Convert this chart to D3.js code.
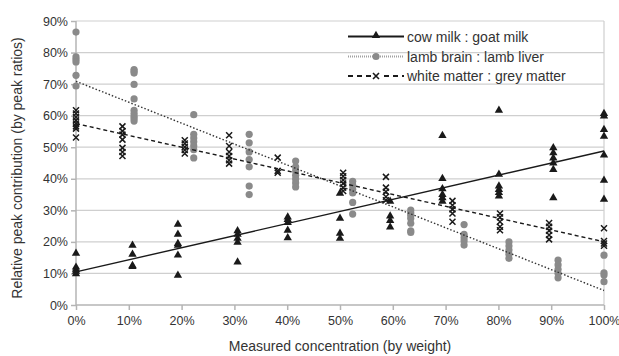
<!DOCTYPE html>
<html>
<head>
<meta charset="utf-8">
<script src="https://cdnjs.cloudflare.com/ajax/libs/d3/7.8.5/d3.min.js"></script>
<style>
  body { margin: 0; background: #fff; }
  svg text { font-family: "Liberation Sans", Arial, sans-serif; fill: #333; }
</style>
</head>
<body>
<div id="chart"></div>
<script>
// measured concentration (%) of each cluster, and peak ratios (%)
var cowX = [0, 10.7, 19.3, 30.6, 40.1, 50, 59.5, 69.4, 80.1, 90.4, 100];
var cowY = [
  [16.7, 12.3, 11.6, 11.0, 10.2],
  [19.2, 16.4, 12.8, 12.5],
  [25.9, 22.7, 19.8, 19.2, 16.1, 9.7],
  [23.8, 22.7, 21.4, 20.2, 13.9],
  [28.2, 27.4, 26.4, 24.0, 21.6],
  [35.7, 27.8, 23.0, 21.4],
  [33.2, 28.5, 27.1, 25.0],
  [54.0, 40.4, 37.1, 35.3, 34.3, 33.2],
  [62.0, 41.7, 38.0, 36.9, 35.9, 34.8],
  [50.1, 48.5, 46.9, 45.3, 43.2, 34.3],
  [61.0, 60.2, 55.9, 53.8, 47.8, 39.8, 33.8]
];

var lambX = [0, 11.0, 22.3, 32.8, 41.6, 52.4, 63.4, 73.5, 82.0, 91.3, 100];
var lambY = [
  [86.5, 78.6, 77.8, 77.0, 72.8, 69.4],
  [74.6, 74.1, 73.5, 69.9, 65.3, 61.7, 60.7, 59.8, 59.1, 58.3],
  [60.3, 54.1, 52.9, 51.7, 50.4, 49.2, 46.6],
  [54.1, 51.4, 48.5, 46.1, 43.8, 37.7, 35.0],
  [45.6, 43.8, 42.5, 41.1, 39.9, 38.7, 37.4],
  [39.2, 38.0, 36.7, 35.5, 32.5, 28.8],
  [30.1, 29.2, 28.4, 27.4, 25.9, 23.5, 23.0],
  [25.5, 22.4, 21.3, 20.3, 19.0],
  [20.0, 18.7, 17.4, 16.1, 14.8],
  [14.2, 12.7, 11.3, 10.0, 8.6],
  [15.8, 10.2, 9.5, 7.4]
];

var whiteX = [0, 8.8, 20.6, 29.0, 38.2, 50.6, 58.7, 71.3, 80.3, 89.6, 100];
var whiteY = [
  [61.7, 60.7, 59.6, 58.5, 57.5, 56.6, 55.9, 53.1],
  [56.6, 55.1, 54.0, 52.4, 49.8, 48.5, 47.2],
  [52.2, 51.2, 50.1, 49.1, 48.0],
  [53.8, 50.4, 48.5, 47.2, 45.9, 44.8],
  [46.7, 42.5, 41.9],
  [41.9, 40.8, 39.6, 38.5, 37.2, 36.1],
  [40.6, 37.2, 35.9, 34.3, 33.2],
  [33.0, 31.6, 30.3, 29.0, 26.4],
  [29.0, 27.8, 26.4, 24.8, 23.7],
  [26.0, 24.8, 23.5, 22.2, 20.8],
  [24.3, 20.3, 19.5, 18.8]
];

var seriesNames = ["cow milk : goat milk", "lamb brain : lamb liver", "white matter : grey matter"];
var xTicks = [0, 10, 20, 30, 40, 50, 60, 70, 80, 90, 100];
var yTicks = [0, 10, 20, 30, 40, 50, 60, 70, 80, 90];

var width = 619, height = 356;
var margin = {top: 21, right: 15, bottom: 51, left: 76};

var svg = d3.select("#chart").append("svg")
  .attr("width", width)
  .attr("height", height);

var x = d3.scaleLinear().domain([0, 100]).range([margin.left, width - margin.right]);
var y = d3.scaleLinear().domain([0, 90]).range([height - margin.bottom, margin.top]);

// gridlines
svg.append("g").selectAll("line")
  .data(yTicks.filter(function(d){ return d > 0; }))
  .enter().append("line")
  .attr("x1", x(0)).attr("x2", x(100))
  .attr("y1", function(d){ return y(d); }).attr("y2", function(d){ return y(d); })
  .attr("stroke", "#cfcfcf").attr("stroke-width", 1.2);

// right border of plot
svg.append("line")
  .attr("x1", x(100)).attr("x2", x(100)).attr("y1", y(90)).attr("y2", y(0))
  .attr("stroke", "#cfcfcf").attr("stroke-width", 1.2);

// axes
var xAxis = d3.axisBottom(x).tickValues(xTicks).tickSize(5).tickPadding(6)
  .tickFormat(function(d){ return d + "%"; });
var yAxis = d3.axisLeft(y).tickValues(yTicks).tickSize(5).tickPadding(3)
  .tickFormat(function(d){ return d + "%"; });

var gx = svg.append("g").attr("transform", "translate(0," + y(0) + ")").call(xAxis);
var gy = svg.append("g").attr("transform", "translate(" + x(0) + ",0)").call(yAxis);
[gx, gy].forEach(function(g){
  g.select(".domain").attr("stroke", "#b4b4b4").attr("stroke-width", 1.5);
  g.selectAll(".tick line").attr("stroke", "#b4b4b4").attr("stroke-width", 1.5);
  g.selectAll(".tick text").style("font-size", "12.5px").attr("fill", "#333");
});
gx.select(".domain").attr("d", "M" + x(0) + ",0H" + x(100));
gy.select(".domain").attr("d", "M0," + y(90) + "V" + y(0));

// axis titles
svg.append("text")
  .attr("x", (x(0) + x(100)) / 2).attr("y", 351)
  .attr("text-anchor", "middle")
  .style("font-size", "14px")
  .text("Measured concentration (by weight)");

svg.append("text")
  .attr("transform", "translate(22," + ((y(0) + y(90)) / 2 + 5) + ") rotate(-90)")
  .attr("text-anchor", "middle")
  .style("font-size", "14px")
  .text("Relative peak contribution (by peak ratios)");

// flatten helper
function points(xs, ys) {
  var out = [];
  xs.forEach(function(xv, i){
    ys[i].forEach(function(yv){ out.push({x: xv, y: yv}); });
  });
  return out;
}

// least squares trendline
function fit(pts) {
  var mx = d3.mean(pts, function(d){ return d.x; });
  var my = d3.mean(pts, function(d){ return d.y; });
  var num = d3.sum(pts, function(d){ return (d.x - mx) * (d.y - my); });
  var den = d3.sum(pts, function(d){ return (d.x - mx) * (d.x - mx); });
  var b = num / den;
  return function(xv){ return my + b * (xv - mx); };
}

var cowPts = points(cowX, cowY);
var lambPts = points(lambX, lambY);
var whitePts = points(whiteX, whiteY);

var triangle = d3.symbol().type(d3.symbolTriangle).size(30);
var crossPath = "M-3,-3L3,3M-3,3L3,-3";

function trend(pts, style) {
  var f = fit(pts);
  svg.append("line")
    .attr("x1", x(0)).attr("y1", y(f(0)))
    .attr("x2", x(100)).attr("y2", y(f(100)))
    .attr("stroke", style.color)
    .attr("stroke-width", style.width)
    .attr("stroke-dasharray", style.dash);
}

// markers
svg.append("g").selectAll("circle")
  .data(lambPts).enter().append("circle")
  .attr("cx", function(d){ return x(d.x); })
  .attr("cy", function(d){ return y(d.y); })
  .attr("r", 3.6)
  .attr("fill", "#8a8a8a");

svg.append("g").selectAll("path")
  .data(whitePts).enter().append("path")
  .attr("transform", function(d){ return "translate(" + x(d.x) + "," + y(d.y) + ")"; })
  .attr("d", crossPath)
  .attr("stroke", "#1a1a1a").attr("stroke-width", 1.5).attr("fill", "none");

svg.append("g").selectAll("path")
  .data(cowPts).enter().append("path")
  .attr("transform", function(d){ return "translate(" + x(d.x) + "," + (y(d.y) + 1) + ")"; })
  .attr("d", triangle)
  .attr("fill", "#1a1a1a");

// trendlines
trend(cowPts, {color: "#1a1a1a", width: 1.4, dash: null});
trend(lambPts, {color: "#333", width: 1.4, dash: "1.5,2"});
trend(whitePts, {color: "#1a1a1a", width: 1.4, dash: "4,3"});

// legend
var legendY = [36.5, 56.5, 76];
var lg = svg.append("g");
var lx1 = 348, lx2 = 404, lmx = 376;

lg.append("line").attr("x1", lx1).attr("x2", lx2).attr("y1", legendY[0]).attr("y2", legendY[0])
  .attr("stroke", "#1a1a1a").attr("stroke-width", 2.2);
lg.append("path").attr("transform", "translate(" + lmx + "," + (legendY[0] - 1) + ")")
  .attr("d", triangle).attr("fill", "#1a1a1a");

lg.append("line").attr("x1", lx1).attr("x2", lx2).attr("y1", legendY[1]).attr("y2", legendY[1])
  .attr("stroke", "#a0a0a0").attr("stroke-width", 2).attr("stroke-dasharray", "1,1");
lg.append("circle").attr("cx", lmx).attr("cy", legendY[1]).attr("r", 3.6).attr("fill", "#8a8a8a");

lg.append("line").attr("x1", lx1).attr("x2", lx2).attr("y1", legendY[2]).attr("y2", legendY[2])
  .attr("stroke", "#1a1a1a").attr("stroke-width", 2.2).attr("stroke-dasharray", "5,4");
lg.append("rect").attr("x", lmx - 5).attr("y", legendY[2] - 5).attr("width", 10).attr("height", 10).attr("fill", "#fff");
lg.append("path").attr("transform", "translate(" + lmx + "," + legendY[2] + ")")
  .attr("d", crossPath).attr("stroke", "#1a1a1a").attr("stroke-width", 1.6).attr("fill", "none");

lg.selectAll("text.leg").data(seriesNames).enter().append("text")
  .attr("class", "leg")
  .attr("x", 407)
  .attr("y", function(d, i){ return legendY[i] + 5; })
  .style("font-size", "14px")
  .attr("fill", "#1a1a1a")
  .text(function(d){ return d; });
</script>
</body>
</html>
